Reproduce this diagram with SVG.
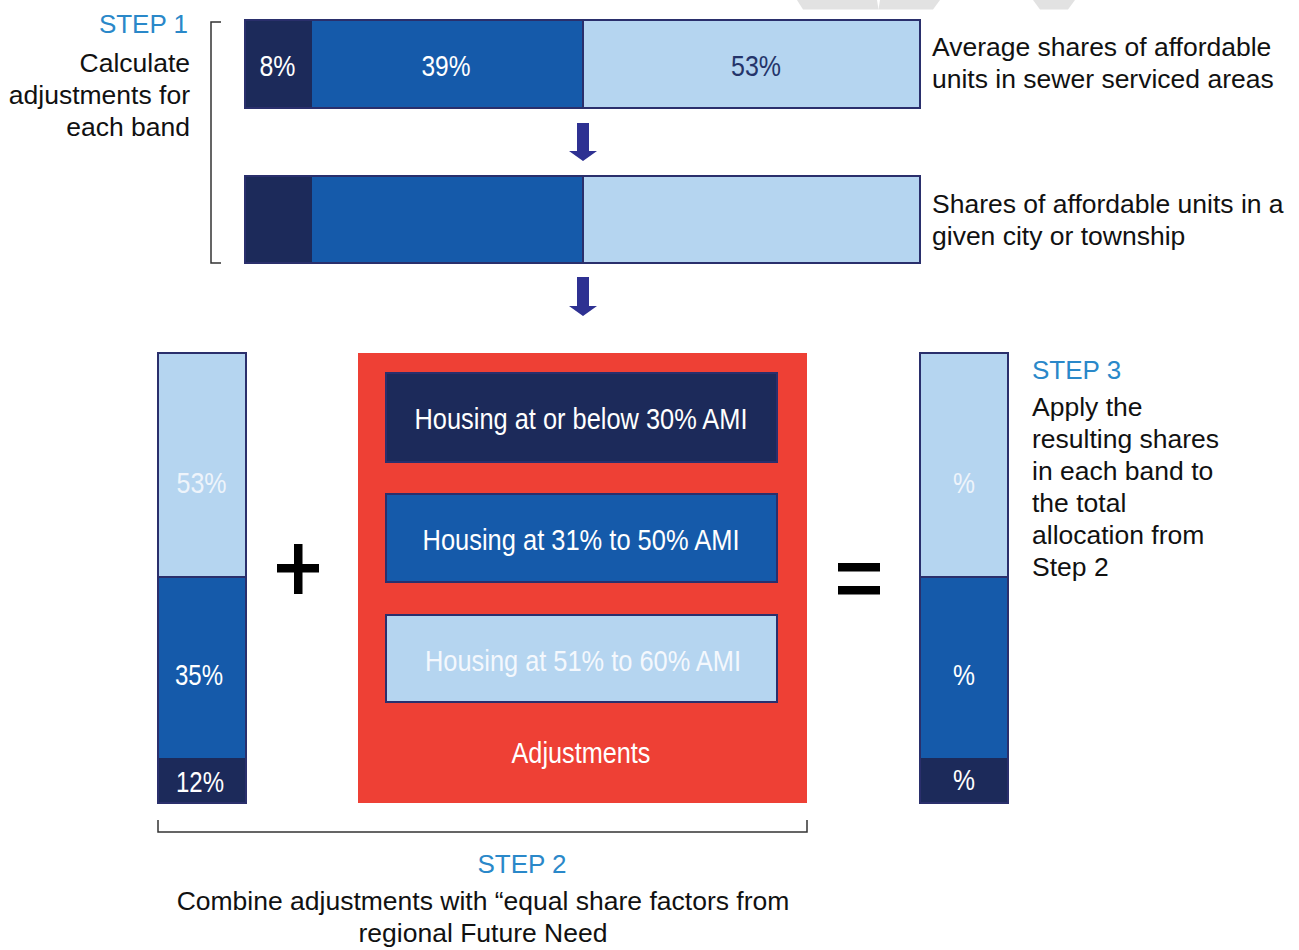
<svg xmlns="http://www.w3.org/2000/svg" width="1299" height="950" viewBox="0 0 1299 950">
<defs>
<style>
.navy{fill:#1c2a5a}
.mid{fill:#155aaa}
.light{fill:#b5d5f0}
.frame{fill:none;stroke:#2a2f6c;stroke-width:2}
.line{fill:none;stroke:#333;stroke-width:1.5}
.t{font-family:"Liberation Sans",Arial,sans-serif;font-size:26.5px;fill:#111}
.step{font-family:"Liberation Sans",Arial,sans-serif;font-size:26px;fill:#2a88c9}
.c{font-family:"Liberation Sans",Arial,sans-serif;font-size:30px;fill:#fff;text-anchor:middle}
.arrow{fill:#2e3192}
.wm{fill:#e2e2e2}
</style>
</defs>
<rect width="1299" height="950" fill="#fff"/>
<g id="watermark">
<polygon class="wm" points="797,0 877,0 878.5,9.5 803,9.5"/>
<polygon class="wm" points="880,0 940,0 933,9.5 878.5,9.5"/>
<polygon class="wm" points="1033,0 1075,0 1068,9.5 1040,9.5"/>
</g>
<g id="step1-label">
<path class="line" d="M221,22 H211 V263 H221"/>
<text class="step" x="188" y="33" text-anchor="end">STEP 1</text>
<text class="t" x="190" y="72" text-anchor="end">Calculate</text>
<text class="t" x="190" y="104" text-anchor="end">adjustments for</text>
<text class="t" x="190" y="136" text-anchor="end">each band</text>
</g>
<g id="bar-average">
<rect class="navy" x="245" y="20" width="67" height="88"/>
<rect class="mid" x="312" y="20" width="271" height="88"/>
<rect class="light" x="583" y="20" width="337" height="88"/>
<line x1="583" y1="20" x2="583" y2="108" stroke="#2a2f6c" stroke-width="2"/>
<rect class="frame" x="245" y="20" width="675" height="88"/>
<text class="c" x="277.5" y="76" textLength="36" lengthAdjust="spacingAndGlyphs">8%</text>
<text class="c" x="446" y="76" textLength="49" lengthAdjust="spacingAndGlyphs">39%</text>
<text class="c" x="756" y="76" textLength="50" lengthAdjust="spacingAndGlyphs" style="fill:#24346a">53%</text>
<text class="t" x="932" y="56">Average shares of affordable</text>
<text class="t" x="932" y="88">units in sewer serviced areas</text>
</g>
<g id="bar-city">
<rect class="navy" x="245" y="176" width="67" height="87"/>
<rect class="mid" x="312" y="176" width="271" height="87"/>
<rect class="light" x="583" y="176" width="337" height="87"/>
<line x1="583" y1="176" x2="583" y2="263" stroke="#2a2f6c" stroke-width="2"/>
<rect class="frame" x="245" y="176" width="675" height="87"/>
<text class="t" x="932" y="213">Shares of affordable units in a</text>
<text class="t" x="932" y="245">given city or township</text>
</g>
<g id="connectors">
<polygon class="arrow" points="577,123 589,123 589,151 597,151 583,161 569,151 577,151"/>
<polygon class="arrow" points="577,277 589,277 589,306 597,306 583,316 569,306 577,306"/>
</g>
<g id="bar-equal-share">
<rect class="light" x="158" y="353" width="88" height="224"/>
<rect class="mid" x="158" y="577" width="88" height="181"/>
<rect class="navy" x="158" y="758" width="88" height="45"/>
<line x1="158" y1="577" x2="246" y2="577" stroke="#2a2f6c" stroke-width="2"/>
<rect class="frame" x="158" y="353" width="88" height="450"/>
<text class="c" x="201.5" y="493" textLength="50" lengthAdjust="spacingAndGlyphs" style="fill:#eef4fb">53%</text>
<text class="c" x="199" y="685" textLength="48" lengthAdjust="spacingAndGlyphs">35%</text>
<text class="c" x="200" y="791.5" textLength="48" lengthAdjust="spacingAndGlyphs">12%</text>
</g>
<g id="plus">
<rect x="277" y="564" width="42" height="8.5" fill="#000"/>
<rect x="294" y="544" width="8.5" height="50" fill="#000"/>
</g>
<g id="adjustments">
<rect x="358" y="353" width="449" height="450" fill="#ee4035"/>
<rect class="navy" x="386" y="373" width="391" height="89" stroke="#2a2f6c" stroke-width="2"/>
<rect class="mid" x="386" y="494" width="391" height="88" stroke="#2a2f6c" stroke-width="2"/>
<rect class="light" x="386" y="615" width="391" height="87" stroke="#2a2f6c" stroke-width="2"/>
<text class="c" x="581" y="429" textLength="333" lengthAdjust="spacingAndGlyphs">Housing at or below 30% AMI</text>
<text class="c" x="581" y="550" textLength="317" lengthAdjust="spacingAndGlyphs">Housing at 31% to 50% AMI</text>
<text class="c" x="583" y="671" textLength="316" lengthAdjust="spacingAndGlyphs" style="fill:#f4f8fd">Housing at 51% to 60% AMI</text>
<text class="c" x="581" y="763" textLength="139" lengthAdjust="spacingAndGlyphs" style="font-size:29px">Adjustments</text>
</g>
<g id="equals">
<rect x="838" y="563" width="42" height="8.5" fill="#000"/>
<rect x="838" y="586" width="42" height="8.5" fill="#000"/>
</g>
<g id="bar-result">
<rect class="light" x="920" y="353" width="88" height="224"/>
<rect class="mid" x="920" y="577" width="88" height="181"/>
<rect class="navy" x="920" y="758" width="88" height="45"/>
<line x1="920" y1="577" x2="1008" y2="577" stroke="#2a2f6c" stroke-width="2"/>
<rect class="frame" x="920" y="353" width="88" height="450"/>
<text class="c" x="964" y="493" textLength="22" lengthAdjust="spacingAndGlyphs" style="fill:#eef4fb">%</text>
<text class="c" x="964" y="685" textLength="22" lengthAdjust="spacingAndGlyphs">%</text>
<text class="c" x="964" y="790" textLength="22" lengthAdjust="spacingAndGlyphs">%</text>
</g>
<g id="step3-label">
<text class="step" x="1032" y="379">STEP 3</text>
<text class="t" x="1032" y="416">Apply the</text>
<text class="t" x="1032" y="448">resulting shares</text>
<text class="t" x="1032" y="480">in each band to</text>
<text class="t" x="1032" y="512">the total</text>
<text class="t" x="1032" y="544">allocation from</text>
<text class="t" x="1032" y="576">Step 2</text>
</g>
<g id="step2-label">
<path class="line" d="M158,820 V832 H807 V820"/>
<text class="step" x="522" y="873" text-anchor="middle">STEP 2</text>
<text class="t" x="483" y="910" text-anchor="middle">Combine adjustments with “equal share factors from</text>
<text class="t" x="483" y="942" text-anchor="middle">regional Future Need</text>
</g>
</svg>
